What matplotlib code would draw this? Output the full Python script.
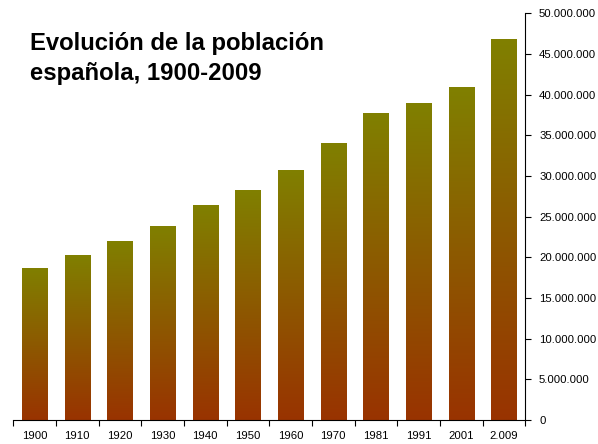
import matplotlib
matplotlib.use("Agg")
import matplotlib.pyplot as plt
import numpy as np
from matplotlib.colors import LinearSegmentedColormap
from matplotlib.ticker import FuncFormatter

years = ["1900", "1910", "1920", "1930", "1940", "1950", "1960", "1970", "1981", "1991", "2001", "2.009"]
population = [18730000, 20350000, 22050000, 23900000, 26400000, 28250000,
              30800000, 34100000, 37800000, 38950000, 40900000, 46850000]

plt.rcParams['font.family'] = ['Liberation Sans', 'DejaVu Sans']

fig = plt.figure(figsize=(5.98, 4.44), dpi=100)
ax = fig.add_axes([0.0222, 0.054, 0.856, 0.9156])

x = np.arange(len(years))
bars = ax.bar(x, population, width=0.59, color="none", edgecolor="none")

cmap = LinearSegmentedColormap.from_list("grad", ["#993300", "#808000"])
grad = np.linspace(0, 1, 256).reshape(-1, 1)
for b in bars:
	x0, y0 = b.get_x(), b.get_y()
	w, h = b.get_width(), b.get_height()
	im = ax.imshow(grad, cmap=cmap, origin="lower", aspect="auto",
	               extent=[x0, x0 + w, y0, y0 + h], zorder=2, interpolation="bilinear")
	im.set_clip_path(b)

ax.set_xlim(-0.5, len(years) - 0.5)
ax.set_ylim(0, 50000000)

ax.yaxis.tick_right()
ax.set_yticks(np.arange(0, 50000001, 5000000))
ax.yaxis.set_major_formatter(FuncFormatter(lambda v, p: "0" if v == 0 else f"{int(v):,}".replace(",", ".")))
ax.tick_params(axis="y", direction="out", length=4, width=0.8, labelsize=8.2, pad=6)

ax.set_xticks(x)
ax.set_xticklabels(years)
ax.set_xticks(np.arange(-0.5, len(years), 1), minor=True)
ax.tick_params(axis="x", which="major", length=0, labelsize=8.2, pad=8)
ax.tick_params(axis="x", which="minor", direction="out", length=4, width=0.8)

ax.spines["top"].set_visible(False)
ax.spines["left"].set_visible(False)
ax.spines["right"].set_linewidth(0.8)
ax.spines["bottom"].set_linewidth(0.8)

fig.text(0.050, 0.8874, "Evolución de la población", fontsize=17.2,
         fontweight="bold", ha="left", va="baseline")
fig.text(0.050, 0.8198, "española, 1900-2009", fontsize=17.2,
         fontweight="bold", ha="left", va="baseline")

fig.savefig("out.png", dpi=100)
